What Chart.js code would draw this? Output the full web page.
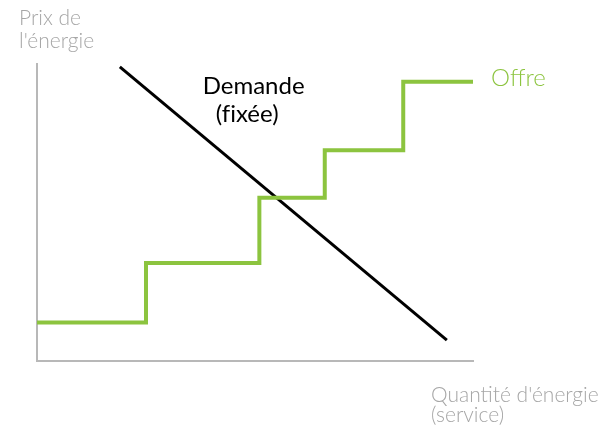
<!DOCTYPE html>
<html>
<head>
<meta charset="utf-8">
<script src="https://cdn.jsdelivr.net/npm/chart.js@4.4.0/dist/chart.umd.min.js"></script>
<style>
   html, body { margin: 0; padding: 0; background: #fff; }
   #wrap { width: 604px; height: 428px; }
</style>
</head>
<body>
<div id="wrap"><canvas id="graphique"></canvas></div>
<script>
// Offre (courbe en escalier)
const offreX = [0, 25, 51, 66, 84, 100];
const offreY = [13, 33, 55, 71, 94, 94];
// Demande (droite)
const demandeX = [19, 94];
const demandeY = [99, 7];

const titreY = ["Prix de", "l'énergie"];
const titreX = ["Quantité d'énergie", "(service)"];
const labelDemande = ["Demande", "(f\u200Cixée)"]; // ZWNJ : pas de ligature fi
const labelOffre = "Offre";

const VERT = '#8cc43f';
const GRIS = '#a6a6a6';
const POLICE = 'Lato, "Noto Sans", sans-serif';

const ctx = document.getElementById('graphique');

// Textes dessinés après les courbes
const textes = {
   id: 'textes',
   afterDraw(chart) {
      const c = chart.ctx;
      const area = chart.chartArea;
      const x = chart.scales.x;
      const y = chart.scales.y;
      c.save();
      c.textBaseline = 'alphabetic';
      c.textAlign = 'left';

      // titre axe Y
      c.fillStyle = GRIS;
      c.font = '300 21px ' + POLICE;
      c.fillText(titreY[0], area.left - 18, 25);
      c.fillText(titreY[1], area.left - 18, 48);

      // titre axe X
      c.fillText(titreX[0], area.right - 42, 402);
      c.fillText(titreX[1], area.right - 42, 422);

      // label demande
      c.fillStyle = '#000';
      c.font = '24px ' + POLICE;
      c.fillText(labelDemande[0], x.getPixelForValue(38), y.getPixelForValue(90));
      c.fillText(labelDemande[1], x.getPixelForValue(41), y.getPixelForValue(80.5));

      // label offre
      c.fillStyle = VERT;
      c.font = '300 24px ' + POLICE;
      const last = offreX.length - 1;
      c.fillText(labelOffre, x.getPixelForValue(offreX[last]) + 18, y.getPixelForValue(offreY[last]) + 4);
      c.restore();
   }
};

const myChart = new Chart(ctx, {
   type: 'line',
   data: {
      datasets: [{
         label: 'Offre',
         data: offreX.map((v, i) => ({x: v, y: offreY[i]})),
         borderColor: VERT,
         borderWidth: 4,
         stepped: 'before',
         fill: false,
         pointRadius: 0
      }, {
         label: 'Demande',
         data: demandeX.map((v, i) => ({x: v, y: demandeY[i]})),
         borderColor: '#000',
         borderWidth: 3,
         fill: false,
         pointRadius: 0
      }]
   },
   options: {
      responsive: true,
      maintainAspectRatio: false,
      animation: false,
      layout: {
         padding: { left: 29, top: 64, right: 131, bottom: 59 }
      },
      scales: {
         x: {
            type: 'linear',
            min: 0,
            max: 100,
            ticks: { display: false },
            grid: { display: false },
            border: { display: true, color: '#b8b8b8', width: 2 }
         },
         y: {
            min: 0,
            max: 100,
            ticks: { display: false },
            grid: { display: false },
            border: { display: true, color: '#b8b8b8', width: 2 }
         }
      },
      plugins: {
         legend: { display: false },
         tooltip: { enabled: false }
      }
   },
   plugins: [textes]
});
</script>
</body>
</html>
